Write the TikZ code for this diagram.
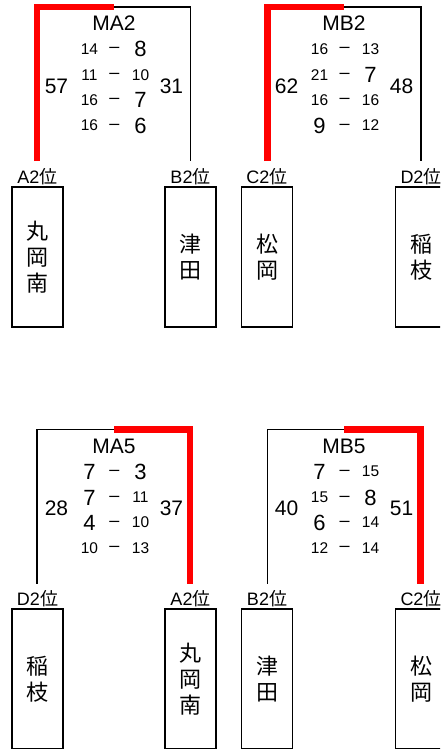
\documentclass[tikz,border=0pt]{standalone}
\usepackage{fontspec}
\setmainfont{Liberation Sans}
\newfontfamily\cjk{Noto Sans CJK JP}
\newcommand\sz[1]{\ifnum#1<10 \fontsize{22}{24}\selectfont\else\fontsize{15.5}{18}\selectfont\fi #1}
% id, mid x, row y, left score, right score
\newcommand\scorerow[5]{%
  \node[num] (#1l) at (#2-24.5,#3) {\sz{#4}};
  \node[dsh] (#1d) at (#2+0.5,#3+1) {–};
  \node[num] (#1r) at (#2+26.5,#3) {\sz{#5}};
}
% id, mid x, top y, title, left total, right total
\newcommand\matchlabels[6]{%
  \node[ttl] (#1t) at (#2,#3+16.5) {#4};
  \node[total] (#1a) at (#2-57.5,#3+79) {#5};
  \node[total] (#1b) at (#2+57.5,#3+79) {#6};
}
\begin{document}
\begin{tikzpicture}[x=1pt,y=-1pt,
  box/.style={draw, line width=1.7pt, minimum width=51pt, minimum height=140pt,
    inner sep=0pt, align=center, font=\cjk\fontsize{22}{26}\selectfont},
  seed/.style={inner sep=0pt, anchor=base, font=\fontsize{18}{20}\selectfont},
  ttl/.style={inner sep=0pt, font=\fontsize{21}{24}\selectfont},
  total/.style={inner sep=0pt, font=\fontsize{21}{24}\selectfont},
  num/.style={inner sep=0pt},
  dsh/.style={inner sep=0pt, font=\fontsize{18}{20}\selectfont},
  win/.style={draw=red, line width=6.3pt},
  lose/.style={draw=black, line width=1.8pt}]
\useasboundingbox (0,0) rectangle (440,749);
\clip (0,0) rectangle (440,748.2);

% ---------- top row: seeds and boxes ----------
\node[seed] (tA) at (37.5,183) {A2{\cjk 位}};
\node[seed] (tB) at (190.5,183) {B2{\cjk 位}};
\node[seed] (tC) at (267,183) {C2{\cjk 位}};
\node[seed] (tD) at (421,183) {D2{\cjk 位}};
\node[box] (bA) at (37.5,257) {丸\\岡\\南};
\node[box] (bB) at (190.5,257) {津\\田};
\node[box] (bC) at (267,257) {松\\岡};
\node[box] (bD) at (421,257) {稲\\枝};

% ---------- bottom row: seeds and boxes ----------
\node[seed] (uA) at (37.5,605.5) {D2{\cjk 位}};
\node[seed] (uB) at (190.5,605.5) {A2{\cjk 位}};
\node[seed] (uC) at (267,605.5) {B2{\cjk 位}};
\node[seed] (uD) at (421,605.5) {C2{\cjk 位}};
\node[box] (vA) at (37.5,679) {稲\\枝};
\node[box] (vB) at (190.5,679) {丸\\岡\\南};
\node[box] (vC) at (267,679) {津\\田};
\node[box] (vD) at (421,679) {松\\岡};

% ---------- MA2 ----------
\coordinate (ma2m) at (114,7);
\coordinate (ma2l) at (37,161);
\coordinate (ma2r) at (190.5,161);
\draw[lose] (ma2m) -| (ma2r);
\draw[win] (ma2l) |- (ma2m);
\matchlabels{ma2}{114}{7}{MA2}{57}{31}
\scorerow{ma2x}{114}{49}{14}{8}
\scorerow{ma2y}{114}{75}{11}{10}
\scorerow{ma2z}{114}{100}{16}{7}
\scorerow{ma2w}{114}{125.5}{16}{6}

% ---------- MB2 ----------
\coordinate (mb2m) at (344,7);
\coordinate (mb2l) at (267.5,161);
\coordinate (mb2r) at (421,161);
\draw[lose] (mb2m) -| (mb2r);
\draw[win] (mb2l) |- (mb2m);
\matchlabels{mb2}{344}{7}{MB2}{62}{48}
\scorerow{mb2x}{344}{49}{16}{13}
\scorerow{mb2y}{344}{75}{21}{7}
\scorerow{mb2z}{344}{100}{16}{16}
\scorerow{mb2w}{344}{125.5}{9}{12}

% ---------- MA5 ----------
\coordinate (ma5m) at (114,429.5);
\coordinate (ma5l) at (37,583.5);
\coordinate (ma5r) at (190,583.5);
\draw[lose] (ma5m) -| (ma5l);
\draw[win] (ma5r) |- (ma5m);
\matchlabels{ma5}{114}{429.5}{MA5}{28}{37}
\scorerow{ma5x}{114}{471.5}{7}{3}
\scorerow{ma5y}{114}{497.5}{7}{11}
\scorerow{ma5z}{114}{522.5}{4}{10}
\scorerow{ma5w}{114}{548}{10}{13}

% ---------- MB5 ----------
\coordinate (mb5m) at (344,429.5);
\coordinate (mb5l) at (267.5,583.5);
\coordinate (mb5r) at (420.5,583.5);
\draw[lose] (mb5m) -| (mb5l);
\draw[win] (mb5r) |- (mb5m);
\matchlabels{mb5}{344}{429.5}{MB5}{40}{51}
\scorerow{mb5x}{344}{471.5}{7}{15}
\scorerow{mb5y}{344}{497.5}{15}{8}
\scorerow{mb5z}{344}{522.5}{6}{14}
\scorerow{mb5w}{344}{548}{12}{14}
\end{tikzpicture}
\end{document}
